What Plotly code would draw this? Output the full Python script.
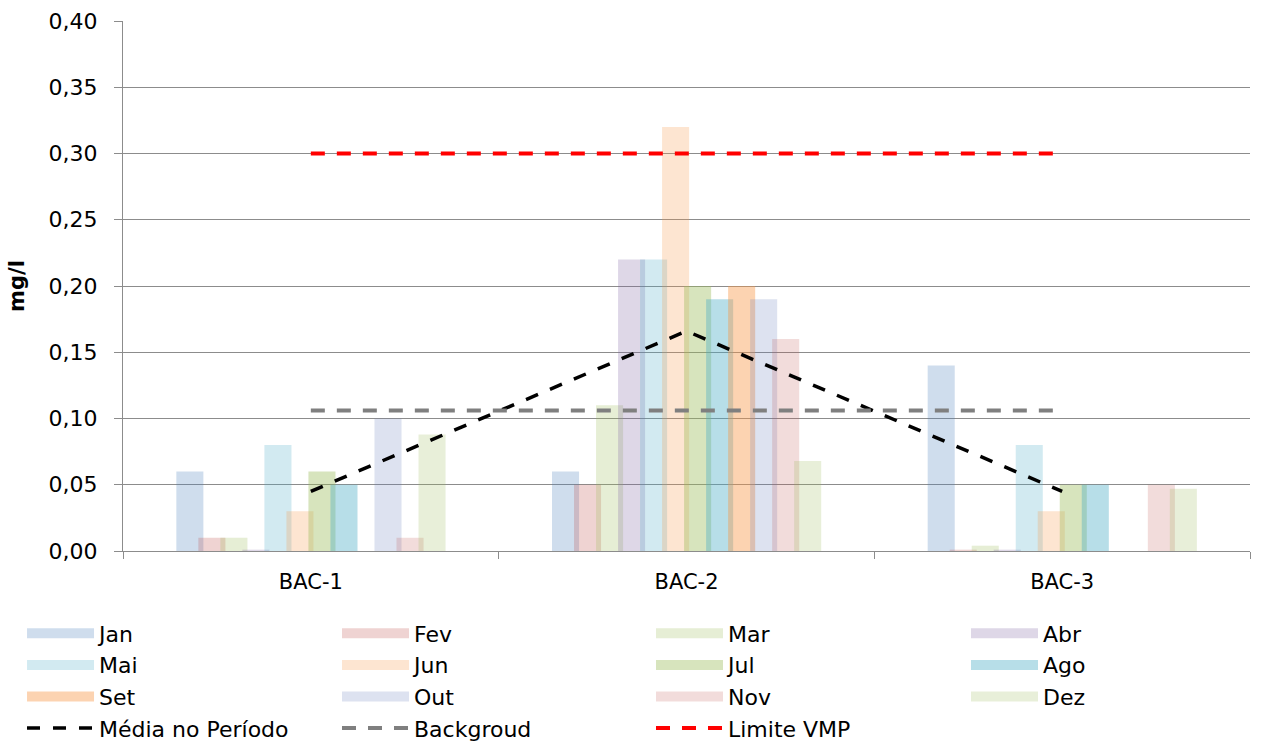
import plotly.graph_objects as go

# Pontos de monitoramento
estacoes = ["BAC-1", "BAC-2", "BAC-3"]

meses = ["Jan", "Fev", "Mar", "Abr", "Mai", "Jun",
         "Jul", "Ago", "Set", "Out", "Nov", "Dez"]

# Concentrações mensais (mg/l) por ponto; None = sem amostra
jan = [0.06, 0.06, 0.14]
fev = [0.01, 0.05, 0.001]
mar = [0.01, 0.11, 0.004]
abr = [0.001, 0.22, 0.001]
mai = [0.08, 0.22, 0.08]
jun = [0.03, 0.32, 0.03]
jul = [0.06, 0.20, 0.05]
ago = [0.05, 0.19, 0.05]
set_ = [None, 0.20, None]
out = [0.10, 0.19, None]
nov = [0.01, 0.16, 0.05]
dez = [0.088, 0.068, 0.047]

media_periodo = [0.045, 0.166, 0.045]
background = [0.106, 0.106, 0.106]
limite_vmp = [0.30, 0.30, 0.30]

serie_mensal = [jan, fev, mar, abr, mai, jun, jul, ago, set_, out, nov, dez]

cores = [
    "rgba(79,129,189,0.27)",
    "rgba(192,80,77,0.25)",
    "rgba(155,187,89,0.25)",
    "rgba(128,100,162,0.26)",
    "rgba(75,172,198,0.25)",
    "rgba(247,150,70,0.25)",
    "rgba(155,187,89,0.40)",
    "rgba(75,172,198,0.40)",
    "rgba(247,150,70,0.42)",
    "rgba(100,125,185,0.22)",
    "rgba(192,80,77,0.20)",
    "rgba(155,187,89,0.23)",
]

# coluna da legenda de cada entrada (4 colunas)
coluna = ["legend", "legend2", "legend3", "legend4"]
coluna_x = [-0.0896, 0.1899, 0.4685, 0.748]

FONT = "DejaVu Sans, Verdana, sans-serif"

fig = go.Figure()

passo = 0.0586
largura = 0.072
inicio = -0.358

for i, (nome, valores, cor) in enumerate(zip(meses, serie_mensal, cores)):
    fig.add_trace(go.Bar(
        x=estacoes, y=valores, name=nome,
        marker=dict(color=cor, line=dict(width=0)),
        width=largura, offset=inicio + i * passo,
        showlegend=False,
    ))

# entradas de legenda para as barras (retângulo largo)
for i, (nome, cor) in enumerate(zip(meses, cores)):
    fig.add_trace(go.Scatter(
        x=[None], y=[None], mode="lines", name=nome,
        line=dict(color=cor, width=13),
        legend=coluna[i % 4], legendgroup=nome,
    ))

linhas = [
    ("Média no Período", media_periodo, "#000000", 3.5, "13px,13px"),
    ("Backgroud", background, "#7f7f7f", 4, "14px,12px"),
    ("Limite VMP", limite_vmp, "#ff0000", 4, "14px,12px"),
]
for j, (nome, valores, cor, w, dash) in enumerate(linhas):
    fig.add_trace(go.Scatter(
        x=estacoes, y=valores, mode="lines", name=nome,
        line=dict(color=cor, width=w, dash=dash),
        legend=coluna[(12 + j) % 4], legendgroup=nome,
    ))

leg_base = dict(
    orientation="v", xanchor="left", yanchor="top", y=-0.116,
    bgcolor="rgba(0,0,0,0)", borderwidth=0, itemwidth=67,
    tracegroupgap=0, font=dict(family=FONT, size=22, color="#000000"),
    itemclick=False, itemdoubleclick=False,
)

fig.update_layout(
    width=1269, height=743,
    margin=dict(l=123, r=19, t=21, b=192, autoexpand=False),
    paper_bgcolor="white", plot_bgcolor="white",
    barmode="overlay",
    separators=",.",
    font=dict(family=FONT, size=21, color="#000000"),
    legend=dict(leg_base, x=coluna_x[0]),
    legend2=dict(leg_base, x=coluna_x[1]),
    legend3=dict(leg_base, x=coluna_x[2]),
    legend4=dict(leg_base, x=coluna_x[3]),
    xaxis=dict(
        type="category", showgrid=False,
        showline=True, linecolor="#8c8c8c", linewidth=1,
        ticks="outside", tickson="boundaries", ticklen=7,
        ticklabelstandoff=12,
        tickcolor="#8c8c8c", tickfont=dict(family=FONT, size=21, color="#000000"),
    ),
    yaxis=dict(
        range=[0, 0.40], dtick=0.05, tickformat=".2f",
        showgrid=True, gridcolor="#8c8c8c", gridwidth=1,
        showline=True, linecolor="#8c8c8c", linewidth=1,
        ticks="outside", ticklen=8, tickcolor="#8c8c8c",
        ticklabelstandoff=12,
        tickfont=dict(family=FONT, size=22, color="#000000"),
        zeroline=False,
        title=dict(text="<b>mg/l</b>", font=dict(family=FONT, size=21, color="#000000"),
                   standoff=18),
    ),
)

fig.write_html("out.html")
